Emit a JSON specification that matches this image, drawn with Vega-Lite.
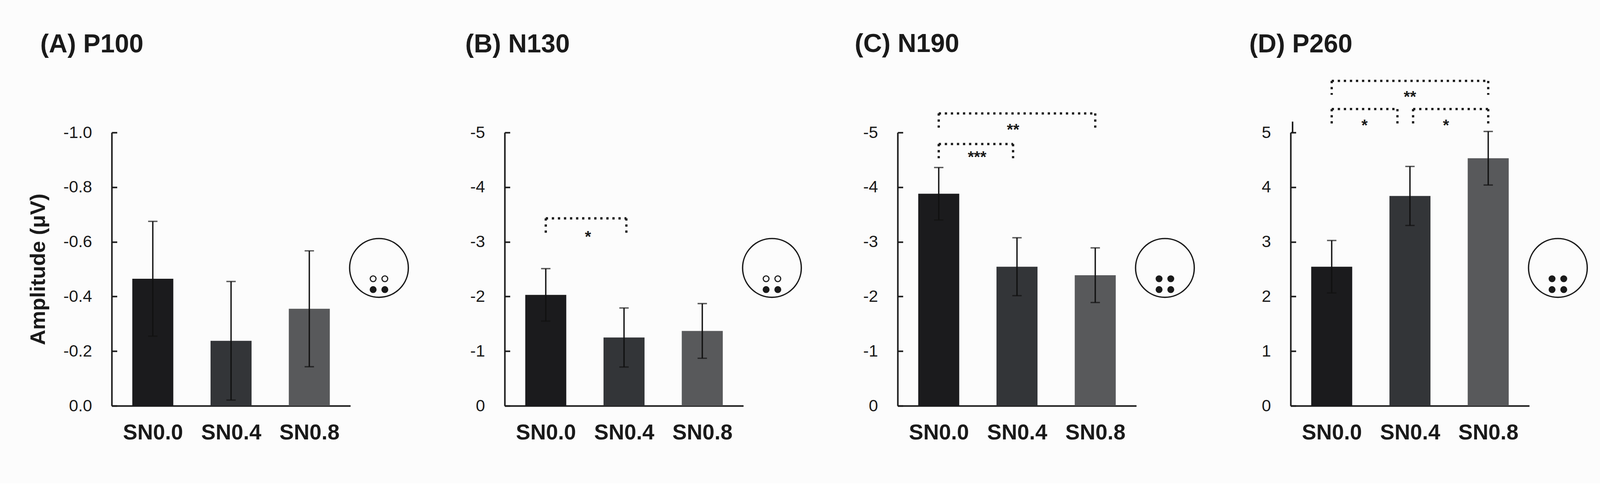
{
  "$schema": "https://vega.github.io/schema/vega-lite/v6.json",
  "background": "#fcfcfc",
  "padding": {"left": 70, "top": 80, "right": 150, "bottom": 100},
  "config": {
    "locale": {"number": {"decimal": ".", "thousands": ",", "grouping": [3], "currency": ["$", ""], "minus": "-"}},
    "view": {"stroke": null},
    "font": "Liberation Sans",
    "title": {"font": "Liberation Sans", "fontSize": 66, "fontWeight": "bold", "color": "#1a1a1a", "anchor": "start", "frame": "group", "baseline": "alphabetic"},
    "axis": {"domainColor": "#1a1a1a", "domainWidth": 3.9, "tickColor": "#1a1a1a", "tickWidth": 3.9, "grid": false, "labelFont": "Liberation Sans", "labelColor": "#1a1a1a", "titleColor": "#1a1a1a"},
    "axisX": {"ticks": false, "labelFontSize": 55.4, "labelFontWeight": "bold", "labelPadding": 41.8, "labelFlush": false},
    "axisY": {"tickSize": -13.6, "labelPadding": 64.2, "labelFontSize": 42.8, "labelFontWeight": "normal", "titleFont": "Liberation Sans", "titleFontSize": 54.5, "titleFontWeight": "bold", "titlePadding": 36}
  },
  "datasets": {
    "bars": [
      {"panel": "A", "cond": "SN0.0", "idx": 1, "mean": -0.465, "se": 0.21},
      {"panel": "A", "cond": "SN0.4", "idx": 2, "mean": -0.238, "se": 0.217},
      {"panel": "A", "cond": "SN0.8", "idx": 3, "mean": -0.355, "se": 0.212},
      {"panel": "B", "cond": "SN0.0", "idx": 1, "mean": -2.03, "se": 0.48},
      {"panel": "B", "cond": "SN0.4", "idx": 2, "mean": -1.25, "se": 0.54},
      {"panel": "B", "cond": "SN0.8", "idx": 3, "mean": -1.37, "se": 0.5},
      {"panel": "C", "cond": "SN0.0", "idx": 1, "mean": -3.88, "se": 0.48},
      {"panel": "C", "cond": "SN0.4", "idx": 2, "mean": -2.545, "se": 0.53},
      {"panel": "C", "cond": "SN0.8", "idx": 3, "mean": -2.39, "se": 0.5},
      {"panel": "D", "cond": "SN0.0", "idx": 1, "mean": 2.545, "se": 0.48},
      {"panel": "D", "cond": "SN0.4", "idx": 2, "mean": 3.84, "se": 0.54},
      {"panel": "D", "cond": "SN0.8", "idx": 3, "mean": 4.53, "se": 0.49}
    ],
    "sig": [
      {"panel": "B", "from": 1, "to": 2.03, "level": -3.43, "leg": -3.12, "stars": "*", "lx": 1.54, "ly": -3.14},
      {"panel": "C", "from": 1, "to": 3, "level": -5.35, "leg": -5.09, "stars": "**", "lx": 1.95, "ly": -5.1},
      {"panel": "C", "from": 1, "to": 1.95, "level": -4.79, "leg": -4.53, "stars": "***", "lx": 1.49, "ly": -4.6},
      {"panel": "D", "from": 1, "to": 3, "level": 5.945, "leg": 5.69, "stars": "**", "lx": 2, "ly": 5.7},
      {"panel": "D", "from": 1, "to": 1.84, "level": 5.43, "leg": 5.16, "stars": "*", "lx": 1.42, "ly": 5.18},
      {"panel": "D", "from": 2.04, "to": 3, "level": 5.43, "leg": 5.16, "stars": "*", "lx": 2.46, "ly": 5.18}
    ],
    "head": [
      {"panel": "A", "part": "head", "hx": 0, "hy": 0},
      {"panel": "A", "part": "open", "hx": -0.2, "hy": -0.37},
      {"panel": "A", "part": "open", "hx": 0.2, "hy": -0.37},
      {"panel": "A", "part": "filled", "hx": -0.2, "hy": -0.74},
      {"panel": "A", "part": "filled", "hx": 0.2, "hy": -0.74},
      {"panel": "B", "part": "head", "hx": 0, "hy": 0},
      {"panel": "B", "part": "open", "hx": -0.2, "hy": -0.37},
      {"panel": "B", "part": "open", "hx": 0.2, "hy": -0.37},
      {"panel": "B", "part": "filled", "hx": -0.2, "hy": -0.74},
      {"panel": "B", "part": "filled", "hx": 0.2, "hy": -0.74},
      {"panel": "C", "part": "head", "hx": 0, "hy": 0},
      {"panel": "C", "part": "filled", "hx": -0.2, "hy": -0.37},
      {"panel": "C", "part": "filled", "hx": 0.2, "hy": -0.37},
      {"panel": "C", "part": "filled", "hx": -0.2, "hy": -0.74},
      {"panel": "C", "part": "filled", "hx": 0.2, "hy": -0.74},
      {"panel": "D", "part": "head", "hx": 0, "hy": 0},
      {"panel": "D", "part": "filled", "hx": -0.2, "hy": -0.37},
      {"panel": "D", "part": "filled", "hx": 0.2, "hy": -0.37},
      {"panel": "D", "part": "filled", "hx": -0.2, "hy": -0.74},
      {"panel": "D", "part": "filled", "hx": 0.2, "hy": -0.74}
    ]
  },
  "bounds": "flush",
  "spacing": 10,
  "resolve": {"scale": {"x": "independent", "y": "independent"}},
  "hconcat": [
    {
      "width": 611, "height": 699,
      "title": {"text": "(A) P100", "dx": -183, "offset": 170},
      "data": {"name": "bars"},
      "transform": [{"filter": "datum.panel == 'A'"}],
      "layer": [
        {
          "mark": {"type": "bar", "width": 105},
          "encoding": {
            "x": {"field": "idx", "type": "quantitative", "title": null, "scale": {"domain": [0.5, 3.5], "nice": false, "zero": false},
                  "axis": {"values": [1, 2, 3], "labelExpr": "datum.value == 1 ? 'SN0.0' : datum.value == 2 ? 'SN0.4' : 'SN0.8'"}},
            "y": {"field": "mean", "type": "quantitative", "title": "Amplitude (μV)", "scale": {"domain": [-1, 0], "reverse": true, "nice": false, "zero": false},
                  "axis": {"values": [-1, -0.8, -0.6, -0.4, -0.2, 0], "format": ".1f"}},
            "color": {"field": "cond", "type": "nominal", "scale": {"domain": ["SN0.0", "SN0.4", "SN0.8"], "range": ["#1b1b1d", "#333538", "#58595b"]}, "legend": null}
          }
        },
        {
          "mark": {"type": "errorbar", "ticks": {"size": 24, "thickness": 3.4, "color": "#111111"}, "rule": {"strokeWidth": 3.4, "color": "#111111"}},
          "encoding": {
            "x": {"field": "idx", "type": "quantitative", "title": null},
            "y": {"field": "mean", "type": "quantitative", "title": "Amplitude (μV)"},
            "yError": {"field": "se"}
          }
        }
      ]
    },
    {
      "width": 375, "height": 699,
      "data": {"name": "head"},
      "transform": [{"filter": "datum.panel == 'A'"}],
      "encoding": {
        "x": {"field": "hx", "type": "quantitative", "scale": {"domain": [-0.844, 4.163], "nice": false, "zero": false}, "axis": null},
        "y": {"field": "hy", "type": "quantitative", "scale": {"domain": [-4.709, 4.623], "nice": false, "zero": false}, "axis": null}
      },
      "layer": [
        {"transform": [{"filter": "datum.part == 'head'"}], "mark": {"type": "point", "shape": "circle", "size": 22590, "filled": false, "stroke": "#1a1a1a", "strokeWidth": 3.4, "opacity": 1}},
        {"transform": [{"filter": "datum.part != 'head'"}], "mark": {"type": "point", "shape": "circle", "size": 218, "filled": true, "stroke": "#1a1a1a", "strokeWidth": 2.9, "opacity": 1},
         "encoding": {"fill": {"field": "part", "type": "nominal", "scale": {"domain": ["open", "filled"], "range": ["#fcfcfc", "#1a1a1a"]}, "legend": null}}}
      ]
    },
    {
      "width": 611, "height": 699,
      "title": {"text": "(B) N130", "dx": -101, "offset": 170},
      "layer": [
        {
          "data": {"name": "bars"},
          "transform": [{"filter": "datum.panel == 'B'"}],
          "mark": {"type": "bar", "width": 105},
          "encoding": {
            "x": {"field": "idx", "type": "quantitative", "title": null, "scale": {"domain": [0.5, 3.5], "nice": false, "zero": false},
                  "axis": {"values": [1, 2, 3], "labelExpr": "datum.value == 1 ? 'SN0.0' : datum.value == 2 ? 'SN0.4' : 'SN0.8'"}},
            "y": {"field": "mean", "type": "quantitative", "title": null, "scale": {"domain": [-5, 0], "reverse": true, "nice": false, "zero": false},
                  "axis": {"values": [-5, -4, -3, -2, -1, 0], "format": "d"}},
            "color": {"field": "cond", "type": "nominal", "scale": {"domain": ["SN0.0", "SN0.4", "SN0.8"], "range": ["#1b1b1d", "#333538", "#58595b"]}, "legend": null}
          }
        },
        {
          "data": {"name": "bars"},
          "transform": [{"filter": "datum.panel == 'B'"}],
          "mark": {"type": "errorbar", "ticks": {"size": 24, "thickness": 3.4, "color": "#111111"}, "rule": {"strokeWidth": 3.4, "color": "#111111"}},
          "encoding": {
            "x": {"field": "idx", "type": "quantitative", "title": null},
            "y": {"field": "mean", "type": "quantitative", "title": null},
            "yError": {"field": "se"}
          }
        },
        {
          "data": {"name": "sig"},
          "transform": [{"filter": "datum.panel == 'B'"}],
          "layer": [
            {"mark": {"type": "rule", "strokeDash": [5.8, 9.7], "strokeWidth": 5.8, "color": "#1a1a1a"},
             "encoding": {"x": {"field": "from", "type": "quantitative", "title": null}, "x2": {"field": "to"}, "y": {"field": "level", "type": "quantitative", "title": null}}},
            {"mark": {"type": "rule", "strokeDash": [5.8, 9.7], "strokeWidth": 5.8, "color": "#1a1a1a"},
             "encoding": {"x": {"field": "from", "type": "quantitative", "title": null}, "y": {"field": "level", "type": "quantitative", "title": null}, "y2": {"field": "leg"}}},
            {"mark": {"type": "rule", "strokeDash": [5.8, 9.7], "strokeWidth": 5.8, "color": "#1a1a1a"},
             "encoding": {"x": {"field": "to", "type": "quantitative", "title": null}, "y": {"field": "level", "type": "quantitative", "title": null}, "y2": {"field": "leg"}}},
            {"mark": {"type": "text", "font": "Liberation Sans", "fontSize": 41, "fontWeight": "bold", "color": "#1a1a1a", "baseline": "middle", "dy": 7.8},
             "encoding": {"x": {"field": "lx", "type": "quantitative", "title": null}, "y": {"field": "ly", "type": "quantitative", "title": null}, "text": {"field": "stars"}}}
          ]
        }
      ]
    },
    {
      "width": 375, "height": 699,
      "data": {"name": "head"},
      "transform": [{"filter": "datum.panel == 'B'"}],
      "encoding": {
        "x": {"field": "hx", "type": "quantitative", "scale": {"domain": [-0.844, 4.163], "nice": false, "zero": false}, "axis": null},
        "y": {"field": "hy", "type": "quantitative", "scale": {"domain": [-4.709, 4.623], "nice": false, "zero": false}, "axis": null}
      },
      "layer": [
        {"transform": [{"filter": "datum.part == 'head'"}], "mark": {"type": "point", "shape": "circle", "size": 22590, "filled": false, "stroke": "#1a1a1a", "strokeWidth": 3.4, "opacity": 1}},
        {"transform": [{"filter": "datum.part != 'head'"}], "mark": {"type": "point", "shape": "circle", "size": 218, "filled": true, "stroke": "#1a1a1a", "strokeWidth": 2.9, "opacity": 1},
         "encoding": {"fill": {"field": "part", "type": "nominal", "scale": {"domain": ["open", "filled"], "range": ["#fcfcfc", "#1a1a1a"]}, "legend": null}}}
      ]
    },
    {
      "width": 611, "height": 699,
      "title": {"text": "(C) N190", "dx": -110, "offset": 140},
      "layer": [
        {
          "data": {"name": "bars"},
          "transform": [{"filter": "datum.panel == 'C'"}],
          "mark": {"type": "bar", "width": 105},
          "encoding": {
            "x": {"field": "idx", "type": "quantitative", "title": null, "scale": {"domain": [0.5, 3.5], "nice": false, "zero": false},
                  "axis": {"values": [1, 2, 3], "labelExpr": "datum.value == 1 ? 'SN0.0' : datum.value == 2 ? 'SN0.4' : 'SN0.8'"}},
            "y": {"field": "mean", "type": "quantitative", "title": null, "scale": {"domain": [-5, 0], "reverse": true, "nice": false, "zero": false},
                  "axis": {"values": [-5, -4, -3, -2, -1, 0], "format": "d"}},
            "color": {"field": "cond", "type": "nominal", "scale": {"domain": ["SN0.0", "SN0.4", "SN0.8"], "range": ["#1b1b1d", "#333538", "#58595b"]}, "legend": null}
          }
        },
        {
          "data": {"name": "bars"},
          "transform": [{"filter": "datum.panel == 'C'"}],
          "mark": {"type": "errorbar", "ticks": {"size": 24, "thickness": 3.4, "color": "#111111"}, "rule": {"strokeWidth": 3.4, "color": "#111111"}},
          "encoding": {
            "x": {"field": "idx", "type": "quantitative", "title": null},
            "y": {"field": "mean", "type": "quantitative", "title": null},
            "yError": {"field": "se"}
          }
        },
        {
          "data": {"name": "sig"},
          "transform": [{"filter": "datum.panel == 'C'"}],
          "layer": [
            {"mark": {"type": "rule", "strokeDash": [5.8, 9.7], "strokeWidth": 5.8, "color": "#1a1a1a"},
             "encoding": {"x": {"field": "from", "type": "quantitative", "title": null}, "x2": {"field": "to"}, "y": {"field": "level", "type": "quantitative", "title": null}}},
            {"mark": {"type": "rule", "strokeDash": [5.8, 9.7], "strokeWidth": 5.8, "color": "#1a1a1a"},
             "encoding": {"x": {"field": "from", "type": "quantitative", "title": null}, "y": {"field": "level", "type": "quantitative", "title": null}, "y2": {"field": "leg"}}},
            {"mark": {"type": "rule", "strokeDash": [5.8, 9.7], "strokeWidth": 5.8, "color": "#1a1a1a"},
             "encoding": {"x": {"field": "to", "type": "quantitative", "title": null}, "y": {"field": "level", "type": "quantitative", "title": null}, "y2": {"field": "leg"}}},
            {"mark": {"type": "text", "font": "Liberation Sans", "fontSize": 41, "fontWeight": "bold", "color": "#1a1a1a", "baseline": "middle", "dy": 7.8},
             "encoding": {"x": {"field": "lx", "type": "quantitative", "title": null}, "y": {"field": "ly", "type": "quantitative", "title": null}, "text": {"field": "stars"}}}
          ]
        }
      ]
    },
    {
      "width": 375, "height": 699,
      "data": {"name": "head"},
      "transform": [{"filter": "datum.panel == 'C'"}],
      "encoding": {
        "x": {"field": "hx", "type": "quantitative", "scale": {"domain": [-0.844, 4.163], "nice": false, "zero": false}, "axis": null},
        "y": {"field": "hy", "type": "quantitative", "scale": {"domain": [-4.709, 4.623], "nice": false, "zero": false}, "axis": null}
      },
      "layer": [
        {"transform": [{"filter": "datum.part == 'head'"}], "mark": {"type": "point", "shape": "circle", "size": 22590, "filled": false, "stroke": "#1a1a1a", "strokeWidth": 3.4, "opacity": 1}},
        {"transform": [{"filter": "datum.part != 'head'"}], "mark": {"type": "point", "shape": "circle", "size": 218, "filled": true, "stroke": "#1a1a1a", "strokeWidth": 2.9, "opacity": 1},
         "encoding": {"fill": {"field": "part", "type": "nominal", "scale": {"domain": ["open", "filled"], "range": ["#fcfcfc", "#1a1a1a"]}, "legend": null}}}
      ]
    },
    {
      "width": 611, "height": 699,
      "title": {"text": "(D) P260", "dx": -106, "offset": 56},
      "layer": [
        {
          "data": {"name": "bars"},
          "transform": [{"filter": "datum.panel == 'D'"}],
          "mark": {"type": "bar", "width": 105},
          "encoding": {
            "x": {"field": "idx", "type": "quantitative", "title": null, "scale": {"domain": [0.5, 3.5], "nice": false, "zero": false},
                  "axis": {"values": [1, 2, 3], "labelExpr": "datum.value == 1 ? 'SN0.0' : datum.value == 2 ? 'SN0.4' : 'SN0.8'"}},
            "y": {"field": "mean", "type": "quantitative", "title": null, "scale": {"domain": [0, 5], "nice": false, "zero": false},
                  "axis": {"values": [0, 1, 2, 3, 4, 5], "format": "d"}},
            "color": {"field": "cond", "type": "nominal", "scale": {"domain": ["SN0.0", "SN0.4", "SN0.8"], "range": ["#1b1b1d", "#333538", "#58595b"]}, "legend": null}
          }
        },
        {
          "data": {"values": [{"axis_from": 5, "axis_to": 5.2, "edge": 0.5}]},
          "mark": {"type": "rule", "strokeWidth": 3.9, "color": "#1a1a1a", "strokeCap": "butt"},
          "encoding": {
            "x": {"field": "edge", "type": "quantitative", "title": null},
            "y": {"field": "axis_from", "type": "quantitative", "title": null},
            "y2": {"field": "axis_to"}
          }
        },
        {
          "data": {"name": "bars"},
          "transform": [{"filter": "datum.panel == 'D'"}],
          "mark": {"type": "errorbar", "ticks": {"size": 24, "thickness": 3.4, "color": "#111111"}, "rule": {"strokeWidth": 3.4, "color": "#111111"}},
          "encoding": {
            "x": {"field": "idx", "type": "quantitative", "title": null},
            "y": {"field": "mean", "type": "quantitative", "title": null},
            "yError": {"field": "se"}
          }
        },
        {
          "data": {"name": "sig"},
          "transform": [{"filter": "datum.panel == 'D'"}],
          "layer": [
            {"mark": {"type": "rule", "strokeDash": [5.8, 9.7], "strokeWidth": 5.8, "color": "#1a1a1a"},
             "encoding": {"x": {"field": "from", "type": "quantitative", "title": null}, "x2": {"field": "to"}, "y": {"field": "level", "type": "quantitative", "title": null}}},
            {"mark": {"type": "rule", "strokeDash": [5.8, 9.7], "strokeWidth": 5.8, "color": "#1a1a1a"},
             "encoding": {"x": {"field": "from", "type": "quantitative", "title": null}, "y": {"field": "level", "type": "quantitative", "title": null}, "y2": {"field": "leg"}}},
            {"mark": {"type": "rule", "strokeDash": [5.8, 9.7], "strokeWidth": 5.8, "color": "#1a1a1a"},
             "encoding": {"x": {"field": "to", "type": "quantitative", "title": null}, "y": {"field": "level", "type": "quantitative", "title": null}, "y2": {"field": "leg"}}},
            {"mark": {"type": "text", "font": "Liberation Sans", "fontSize": 41, "fontWeight": "bold", "color": "#1a1a1a", "baseline": "middle", "dy": 7.8},
             "encoding": {"x": {"field": "lx", "type": "quantitative", "title": null}, "y": {"field": "ly", "type": "quantitative", "title": null}, "text": {"field": "stars"}}}
          ]
        }
      ]
    },
    {
      "width": 146, "height": 699,
      "data": {"name": "head"},
      "transform": [{"filter": "datum.panel == 'D'"}],
      "encoding": {
        "x": {"field": "hx", "type": "quantitative", "scale": {"domain": [-0.844, 1.105], "nice": false, "zero": false}, "axis": null},
        "y": {"field": "hy", "type": "quantitative", "scale": {"domain": [-4.709, 4.623], "nice": false, "zero": false}, "axis": null}
      },
      "layer": [
        {"transform": [{"filter": "datum.part == 'head'"}], "mark": {"type": "point", "shape": "circle", "size": 22590, "filled": false, "stroke": "#1a1a1a", "strokeWidth": 3.4, "opacity": 1}},
        {"transform": [{"filter": "datum.part != 'head'"}], "mark": {"type": "point", "shape": "circle", "size": 218, "filled": true, "stroke": "#1a1a1a", "strokeWidth": 2.9, "opacity": 1},
         "encoding": {"fill": {"field": "part", "type": "nominal", "scale": {"domain": ["open", "filled"], "range": ["#fcfcfc", "#1a1a1a"]}, "legend": null}}}
      ]
    }
  ]
}
